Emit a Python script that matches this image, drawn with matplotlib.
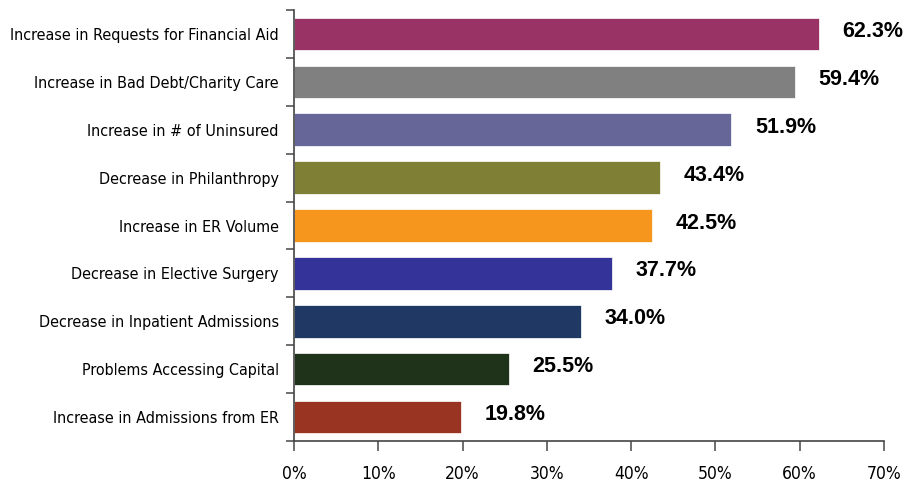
import matplotlib.pyplot as plt
import numpy as np
from matplotlib import font_manager

categories = ['Increase in Requests for Financial Aid', 'Increase in Bad Debt/Charity Care',
              'Increase in # of Uninsured', 'Decrease in Philanthropy', 'Increase in ER Volume',
              'Decrease in Elective Surgery', 'Decrease in Inpatient Admissions',
              'Problems Accessing Capital', 'Increase in Admissions from ER']
values = [62.3, 59.4, 51.9, 43.4, 42.5, 37.7, 34.0, 25.5, 19.8]
colors = ['#993366', '#808080', '#666699', '#7f7f35', '#f7961d',
          '#333399', '#1f3864', '#1e3319', '#993322']
xticks = [0, 10, 20, 30, 40, 50, 60, 70]

names = {f.name for f in font_manager.fontManager.ttflist}
narrow = 'Liberation Sans Narrow' if 'Liberation Sans Narrow' in names else 'DejaVu Sans'

fig = plt.figure(figsize=(9.22, 4.87), dpi=100)
ax = fig.add_axes([294/922, 1 - 441/487, 590/922, 431/487])

y = np.arange(len(categories))[::-1]
ax.barh(y, values, height=0.68, color=colors, edgecolor='white', linewidth=0.5)
for yi, v in zip(y, values):
    ax.text(v + 2.8, yi + 0.05, f'{v:.1f}%', va='center', ha='left', fontsize=15.5,
            fontweight='bold', family='Liberation Sans')

ax.set_xlim(0, 70)
ax.set_ylim(-0.5, len(categories) - 0.5)
ax.set_xticks(xticks)
ax.set_xticklabels([f'{t}%' for t in xticks], fontsize=12.5, family=narrow, stretch='condensed')
ax.set_yticks(y)
ax.set_yticklabels(categories, fontsize=11.5, family=narrow, stretch='condensed')
ax.set_yticks(np.arange(-0.5, len(categories)), minor=True)
ax.tick_params(axis='y', which='major', length=0, pad=11)
ax.tick_params(axis='y', which='minor', length=6, width=1.2, color='#555555')
ax.tick_params(axis='x', length=7, width=1.2, color='#555555', pad=10)
for s in ['top', 'right']:
    ax.spines[s].set_visible(False)
for s in ['left', 'bottom']:
    ax.spines[s].set_color('#444444')
    ax.spines[s].set_linewidth(1.2)

fig.savefig('out.png', dpi=100)
